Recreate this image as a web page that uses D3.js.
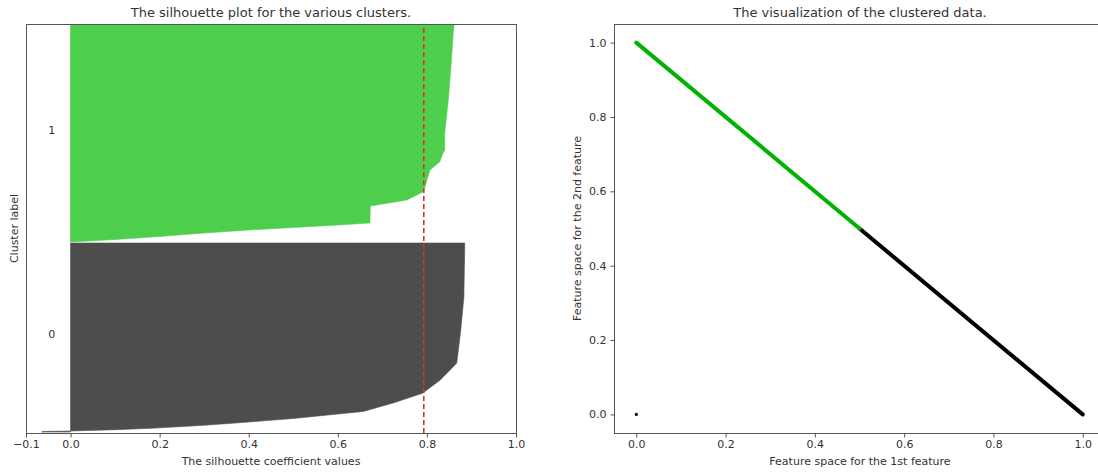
<!DOCTYPE html>
<html>
<head>
<meta charset="utf-8">
<script src="https://cdn.jsdelivr.net/npm/d3@7"></script>
<style>
  body { margin: 0; background: #fff; }
  svg { display: block; }
  text { font-family: "DejaVu Sans", sans-serif; fill: #333; }
</style>
</head>
<body>
<div id="chart"></div>
<script>
// silhouette values (sorted, index within cluster -> value)
const clusterLabels = ["0", "1"];
const clusterSizes = [1890, 2170];

const cluster0Rank  = [0, 6, 8, 10, 23, 37, 67, 100, 135, 180, 205, 290, 387, 520, 620, 690, 1020, 1350, 1890];
const cluster0Value = [-0.065, -0.06, -0.02, 0.0, 0.1, 0.18, 0.3, 0.4, 0.5, 0.6, 0.657, 0.724, 0.79, 0.83, 0.852, 0.867, 0.876, 0.883, 0.885];

const cluster1Rank  = [0, 25, 55, 90, 120, 145, 170, 190, 360, 420, 503, 570, 620, 720, 803, 890, 920, 1090, 1420, 1753, 2090, 2170];
const cluster1Value = [0.0, 0.1, 0.2, 0.3, 0.4, 0.5, 0.6, 0.672, 0.673, 0.755, 0.792, 0.797, 0.80, 0.807, 0.829, 0.836, 0.84, 0.84, 0.848, 0.854, 0.859, 0.861];

const silhouetteAvg = 0.793;
const xTicksLeft = [-0.1, 0, 0.2, 0.4, 0.6, 0.8, 1.0];

// clustered data (right panel)
const cluster1X = [0, 0.5];
const cluster1Y = [1, 0.5];
const cluster0X = [0.5, 1];
const cluster0Y = [0.5, 0];
const loneX = [0];
const loneY = [0];
const ticksRight = [0, 0.2, 0.4, 0.6, 0.8, 1.0];

const W = 1098, H = 472;
const svg = d3.select("#chart").append("svg")
    .attr("width", W)
    .attr("height", H);

const fmt = d3.format(".1f");
const colors = ["#4d4d4d", "#4dcf4d"];
const scatterColors = ["#000000", "#00b300"];

// ---------- left: silhouette plot ----------
const gap = 10;
const yMax = clusterSizes[0] + clusterSizes[1] + 3 * gap;
const xL = d3.scaleLinear().domain([-0.1, 1.0]).range([26, 516]);
const yL = d3.scaleLinear().domain([0, yMax]).range([433, 24]);

const clusters = [
  {rank: cluster0Rank, value: cluster0Value},
  {rank: cluster1Rank, value: cluster1Value}
];

let yLower = gap;
clusters.forEach(function(c, i) {
  const pts = c.rank.map((r, j) => ({r: r, v: c.value[j]}));
  const lower = yLower;
  const area = d3.area()
      .y(d => yL(lower + d.r))
      .x0(xL(0))
      .x1(d => xL(d.v));
  svg.append("path")
      .attr("d", area(pts))
      .attr("fill", colors[i])
      .attr("stroke", colors[i])
      .attr("stroke-width", 0.6);
  svg.append("text")
      .attr("x", xL(-0.05))
      .attr("y", yL(lower + clusterSizes[i] / 2))
      .attr("font-size", 11)
      .text(clusterLabels[i]);
  yLower += clusterSizes[i] + gap;
});

svg.append("line")
    .attr("x1", xL(silhouetteAvg)).attr("x2", xL(silhouetteAvg))
    .attr("y1", yL(0)).attr("y2", yL(yMax))
    .attr("stroke", "#e0302a")
    .attr("stroke-width", 1.6)
    .attr("stroke-dasharray", "5,3");

svg.append("rect")
    .attr("x", 26.5).attr("y", 24.5)
    .attr("width", 490).attr("height", 409)
    .attr("fill", "none").attr("stroke", "#555");

svg.append("g")
    .attr("transform", "translate(0,433.5)")
    .call(d3.axisBottom(xL).tickValues(xTicksLeft).tickFormat(fmt).tickSizeOuter(0).tickSize(4).tickPadding(3))
    .call(g => g.select(".domain").remove())
    .call(g => g.selectAll("line").attr("stroke", "#555"))
    .call(g => g.selectAll("text").attr("font-size", 11).attr("fill", "#333").attr("font-family", "DejaVu Sans"));

svg.append("text")
    .attr("x", (26 + 516) / 2).attr("y", 17)
    .attr("text-anchor", "middle").attr("font-size", 13)
    .text("The silhouette plot for the various clusters.");

svg.append("text")
    .attr("x", (26 + 516) / 2).attr("y", 465)
    .attr("text-anchor", "middle").attr("font-size", 11)
    .text("The silhouette coefficient values");

svg.append("text")
    .attr("transform", "translate(18," + (24 + 433) / 2 + ") rotate(-90)")
    .attr("text-anchor", "middle").attr("font-size", 11)
    .text("Cluster label");

// ---------- right: scatter ----------
const xR = d3.scaleLinear().domain([-0.05, 1.05]).range([614, 1105]);
const yR = d3.scaleLinear().domain([-0.05, 1.05]).range([433, 24]);

const line = d3.line().x(d => xR(d[0])).y(d => yR(d[1]));
[[cluster0X, cluster0Y], [cluster1X, cluster1Y]].forEach(function(s, i) {
  svg.append("path")
      .attr("d", line(s[0].map((x, j) => [x, s[1][j]])))
      .attr("fill", "none")
      .attr("stroke", scatterColors[i])
      .attr("stroke-width", 4)
      .attr("stroke-linecap", "round");
});
svg.selectAll("circle.lone")
    .data(loneX)
    .enter()
    .append("circle")
      .attr("class", "lone")
      .attr("cx", (d, j) => xR(d))
      .attr("cy", (d, j) => yR(loneY[j]))
      .attr("r", 1.6)
      .attr("fill", "#000");

svg.append("rect")
    .attr("x", 614.5).attr("y", 24.5)
    .attr("width", 500).attr("height", 409)
    .attr("fill", "none").attr("stroke", "#555");

svg.append("g")
    .attr("transform", "translate(0,433.5)")
    .call(d3.axisBottom(xR).tickValues(ticksRight).tickFormat(fmt).tickSizeOuter(0).tickSize(4).tickPadding(3))
    .call(g => g.select(".domain").remove())
    .call(g => g.selectAll("line").attr("stroke", "#555"))
    .call(g => g.selectAll("text").attr("font-size", 11).attr("fill", "#333").attr("font-family", "DejaVu Sans"));

svg.append("g")
    .attr("transform", "translate(614.5,0)")
    .call(d3.axisLeft(yR).tickValues(ticksRight).tickFormat(fmt).tickSizeOuter(0).tickSize(4).tickPadding(4))
    .call(g => g.select(".domain").remove())
    .call(g => g.selectAll("line").attr("stroke", "#555"))
    .call(g => g.selectAll("text").attr("font-size", 11).attr("fill", "#333").attr("font-family", "DejaVu Sans"));

svg.append("text")
    .attr("x", 860).attr("y", 17)
    .attr("text-anchor", "middle").attr("font-size", 13)
    .text("The visualization of the clustered data.");

svg.append("text")
    .attr("x", 860).attr("y", 465)
    .attr("text-anchor", "middle").attr("font-size", 11)
    .text("Feature space for the 1st feature");

svg.append("text")
    .attr("transform", "translate(581," + (24 + 433) / 2 + ") rotate(-90)")
    .attr("text-anchor", "middle").attr("font-size", 11)
    .text("Feature space for the 2nd feature");
</script>
</body>
</html>
